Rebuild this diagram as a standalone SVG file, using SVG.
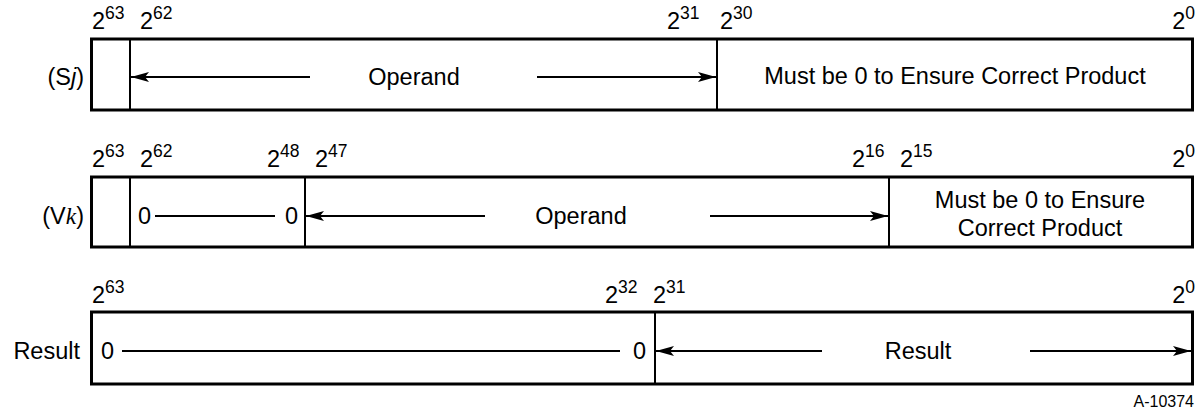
<svg xmlns="http://www.w3.org/2000/svg" width="1196" height="414" viewBox="0 0 1196 414">
  <defs>
    <marker id="ah" viewBox="0 0 18 10" refX="18" refY="5" markerWidth="18" markerHeight="10" markerUnits="userSpaceOnUse" orient="auto-start-reverse">
      <path d="M0,0 L18,5 L0,10 L4,5 Z" fill="#000"/>
    </marker>
    <style>
      text { font-family: "Liberation Sans", Arial, sans-serif; fill: #000; }
      .t { font-size: 23.5px; }
      .lbl { font-size: 23.5px; }
      .sup { font-size: 17.5px; }
      .tag { font-size: 16px; }
      .frame { fill: #fff; stroke: #000; stroke-width: 3; }
      .div { stroke: #000; stroke-width: 2; fill: none; }
      .arr { stroke: #000; stroke-width: 2; fill: none; }
      .arr1 { stroke: #000; stroke-width: 2; fill: none; marker-end: url(#ah); }
    </style>
  </defs>

  <!-- Sj register -->
  <g id="sj">
    <rect class="frame" x="91.5" y="39" width="1101" height="71"/>
    <line class="div" x1="130" y1="39" x2="130" y2="110"/>
    <line class="div" x1="717" y1="39" x2="717" y2="110"/>
    <text class="lbl" x="84" y="85" text-anchor="end">(S<tspan font-style="italic">j</tspan>)</text>
    <text class="t" x="92" y="29">2<tspan class="sup" dy="-10">63</tspan></text>
    <text class="t" x="140" y="29">2<tspan class="sup" dy="-10">62</tspan></text>
    <text class="t" x="667" y="29">2<tspan class="sup" dy="-10">31</tspan></text>
    <text class="t" x="720" y="29">2<tspan class="sup" dy="-10">30</tspan></text>
    <text class="t" x="1195" y="29" text-anchor="end">2<tspan class="sup" dy="-10">0</tspan></text>
    <text class="t" x="414" y="85" text-anchor="middle">Operand</text>
    <text class="t" x="955" y="84" text-anchor="middle">Must be 0 to Ensure Correct Product</text>
  </g>

  <!-- Vk register -->
  <g id="vk">
    <rect class="frame" x="91.5" y="177" width="1101" height="70"/>
    <line class="div" x1="130" y1="177" x2="130" y2="247"/>
    <line class="div" x1="305" y1="177" x2="305" y2="247"/>
    <line class="div" x1="889" y1="177" x2="889" y2="247"/>
    <text class="lbl" x="84" y="224" text-anchor="end">(V<tspan font-style="italic" font-family="Liberation Serif, serif">k</tspan>)</text>
    <text class="t" x="92" y="167">2<tspan class="sup" dy="-10">63</tspan></text>
    <text class="t" x="140" y="167">2<tspan class="sup" dy="-10">62</tspan></text>
    <text class="t" x="267" y="167">2<tspan class="sup" dy="-10">48</tspan></text>
    <text class="t" x="315" y="167">2<tspan class="sup" dy="-10">47</tspan></text>
    <text class="t" x="852" y="167">2<tspan class="sup" dy="-10">16</tspan></text>
    <text class="t" x="900" y="167">2<tspan class="sup" dy="-10">15</tspan></text>
    <text class="t" x="1195" y="167" text-anchor="end">2<tspan class="sup" dy="-10">0</tspan></text>
    <text class="t" x="138" y="224">0</text>
    <text class="t" x="285" y="224">0</text>
    <text class="t" x="581" y="224" text-anchor="middle">Operand</text>
    <text class="t" x="1040" y="208" text-anchor="middle">Must be 0 to Ensure</text>
    <text class="t" x="1040" y="236" text-anchor="middle">Correct Product</text>
  </g>

  <!-- Result register -->
  <g id="result">
    <rect class="frame" x="91.5" y="312" width="1101" height="72"/>
    <line class="div" x1="655" y1="312" x2="655" y2="384"/>
    <text class="lbl" x="80" y="359" text-anchor="end">Result</text>
    <text class="t" x="92" y="303">2<tspan class="sup" dy="-10">63</tspan></text>
    <text class="t" x="605" y="303">2<tspan class="sup" dy="-10">32</tspan></text>
    <text class="t" x="653" y="303">2<tspan class="sup" dy="-10">31</tspan></text>
    <text class="t" x="1195" y="303" text-anchor="end">2<tspan class="sup" dy="-10">0</tspan></text>
    <text class="t" x="101" y="359">0</text>
    <text class="t" x="633" y="359">0</text>
    <text class="t" x="918" y="359" text-anchor="middle">Result</text>
  </g>

  <text class="tag" x="1194" y="407" text-anchor="end">A-10374</text>

  <!-- extent lines and arrows -->
  <g id="connectors">
    <line class="arr1" x1="310" y1="77" x2="131" y2="77"/>
    <line class="arr1" x1="537" y1="77" x2="716" y2="77"/>
    <line class="arr" x1="155" y1="216" x2="275" y2="216"/>
    <line class="arr1" x1="485" y1="216" x2="306" y2="216"/>
    <line class="arr1" x1="710" y1="216" x2="888" y2="216"/>
    <line class="arr" x1="122" y1="351" x2="620" y2="351"/>
    <line class="arr1" x1="822" y1="351" x2="656" y2="351"/>
    <line class="arr1" x1="1030" y1="351" x2="1191" y2="351"/>
  </g>
</svg>
